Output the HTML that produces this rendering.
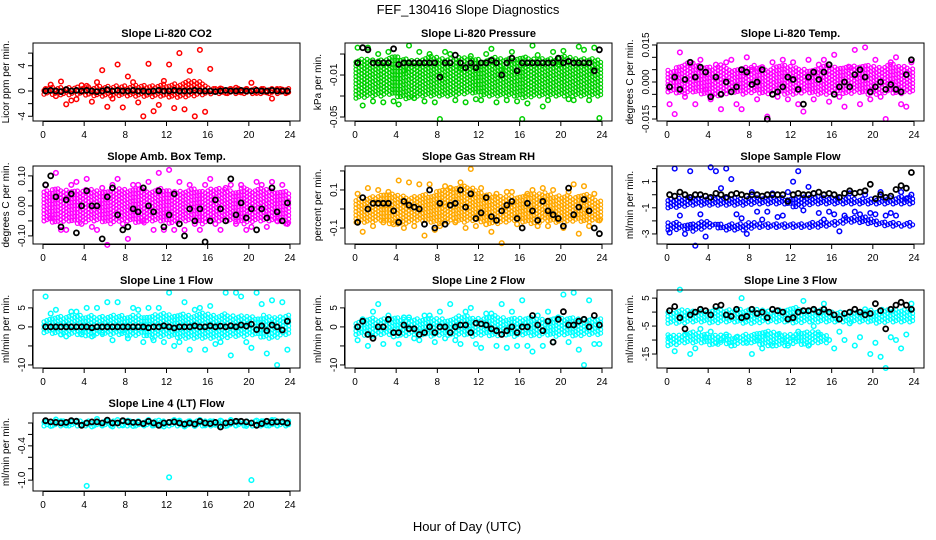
<!DOCTYPE html>
<html><head><meta charset="utf-8"><title>FEF_130416 Slope Diagnostics</title>
<style>
html,body{margin:0;padding:0;background:#fff;}
svg{display:block;font-family:"Liberation Sans",sans-serif;}
</style></head>
<body>
<svg id="chart" width="936" height="540" viewBox="0 0 936 540" xmlns="http://www.w3.org/2000/svg">
<rect x="0" y="0" width="936" height="540" fill="#fff"/>
<text x="468" y="14" font-size="13" text-anchor="middle">FEF_130416  Slope Diagnostics</text>
<text x="467" y="531" font-size="13" text-anchor="middle">Hour of Day (UTC)</text>
<g id="panels"></g>
</svg>
<script>
// ---- data: per-hour dense band edges, scattered points (2 per hour), black reference points ----
const hours = [0,1,2,3,4,5,6,7,8,9,10,11,12,13,14,15,16,17,18,19,20,21,22,23];
const xTicks = [0,4,8,12,16,20,24];

const co2Lo = [-0.5,-0.6,-0.6,-0.5,-0.7,-0.8,-0.8,-0.7,-0.8,-0.8,-0.9,-0.8,-1.0,-1.0,-0.8,-0.6,-0.4,-0.4,-0.4,-0.4,-0.4,-0.4,-0.4,-0.4];
const co2Hi = [0.5,0.7,0.6,0.6,0.7,0.8,0.8,0.8,0.8,0.9,0.9,1.0,1.2,1.2,1.8,1.5,0.4,0.4,0.4,0.4,0.4,0.4,0.4,0.4];
const co2Pts = [0.3,1.0,-0.8,1.5,-2.1,-1.5,-1.3,0.9,0.8,-1.7,1.4,3.3,-2.5,-1.2,4.2,-2.6,2.3,1.4,-1.8,-4.0,4.3,-3.2,-2.2,1.6,4.2,-2.7,6.0,-2.9,3.2,-4.0,6.5,-3.3,3.5,0.3,0.4,-0.3,0.3,0.5,-0.2,0.3,1.3,-0.3,0.3,-0.2,-1.2,0.3,0.2,-0.2];
const co2Blk = [0,0.1,0,-0.1,0.2,0,0.1,0,0.1,0,-0.1,0,0.2,0,0.1,0,0,0.1,0,0,-0.1,0,0.1,0,0,0.1,0,0,0,0.1,0,0,0,-0.1,0,0.1,0,0,0.1,0,0,0.1,0,0,0.1,0,0,0];

const presLo = [-0.032,-0.03,-0.03,-0.028,-0.032,-0.033,-0.03,-0.03,-0.03,-0.03,-0.028,-0.027,-0.03,-0.03,-0.03,-0.03,-0.032,-0.03,-0.03,-0.03,-0.03,-0.03,-0.03,-0.03];
const presHi = [0.005,0.006,0.004,0.008,0.006,0.004,0.006,0.008,0.005,0.006,0.008,0.005,0.004,0.008,0.005,0.006,0.007,0.005,0.006,0.006,0.008,0.005,0.006,0.005];
const presPts = [0.016,-0.039,0.016,-0.035,0.010,-0.036,0.012,-0.035,-0.038,-0.006,0.018,-0.032,0.012,-0.035,0.010,-0.036,-0.052,0.012,0.010,-0.034,-0.004,-0.036,0.008,-0.033,-0.034,0.010,0.015,-0.036,-0.005,-0.034,0.012,-0.035,-0.052,-0.037,0.018,0.009,-0.040,-0.034,0.012,0.0,0.013,-0.033,-0.034,0.017,0.014,-0.034,0.016,-0.051];
const presBlk = [0.0015,0.016,0.014,0.0015,0.0015,0.0015,0.0015,0.015,0.0,0.0015,0.0015,0.0015,0.0015,0.0015,0.0015,0.0015,-0.012,0.0015,0.0015,0.009,0.0015,-0.003,0.0015,-0.003,0.0015,0.0015,0.004,0.0015,-0.01,0.0015,0.006,-0.006,0.0015,0.0015,0.0015,0.0015,0.0015,0.0015,0.0015,0.006,0.0015,0.003,0.0015,0.0015,0.0015,0.0015,-0.006,0.014];

const tempLo = [-0.004,-0.005,-0.004,-0.005,-0.006,-0.005,-0.004,-0.005,-0.004,-0.005,-0.004,-0.005,-0.005,-0.004,-0.005,-0.005,-0.004,-0.005,-0.004,-0.005,-0.005,-0.004,-0.005,-0.004];
const tempHi = [0.005,0.007,0.008,0.006,0.006,0.007,0.005,0.006,0.007,0.005,0.006,0.007,0.006,0.005,0.006,0.007,0.006,0.007,0.006,0.007,0.006,0.007,0.007,0.006];
const tempPts = [-0.009,-0.013,0.012,-0.006,0.007,-0.009,0.009,-0.003,-0.007,0.007,-0.011,0.008,0.009,-0.009,-0.011,0.010,0.005,-0.007,0.006,-0.014,0.008,-0.006,0.009,-0.007,0.008,-0.009,-0.012,0.009,-0.007,0.007,0.009,-0.008,0.011,-0.006,-0.010,0.006,0.013,-0.009,0.014,-0.007,0.009,-0.006,-0.015,0.008,0.010,-0.009,-0.010,0.008];
const tempBlk = [-0.002,0.002,-0.003,0.001,0.008,0.002,0.006,0.004,-0.006,0.002,-0.005,0.0,-0.004,-0.002,0.005,0.004,-0.001,0.0,0.005,-0.015,-0.005,-0.004,-0.002,0.002,0.001,-0.003,-0.009,0.002,0.004,0.001,0.004,0.007,-0.005,-0.002,0.0,-0.002,0.003,0.005,0.002,-0.004,-0.002,0.0,-0.003,-0.001,-0.003,-0.004,0.003,0.009];

const ambLo = [-0.05,-0.06,-0.05,-0.06,-0.05,-0.05,-0.06,-0.05,-0.05,-0.06,-0.05,-0.05,-0.06,-0.05,-0.05,-0.06,-0.05,-0.05,-0.05,-0.06,-0.05,-0.05,-0.05,-0.06];
const ambHi = [0.05,0.06,0.05,0.05,0.06,0.05,0.05,0.06,0.05,0.06,0.05,0.06,0.05,0.05,0.06,0.05,0.06,0.06,0.05,0.06,0.05,0.06,0.05,0.05];
const ambPts = [0.07,-0.04,0.11,-0.08,-0.08,0.07,0.08,-0.06,0.09,-0.07,-0.08,0.06,-0.13,0.07,0.09,-0.06,-0.11,0.07,0.07,-0.05,0.08,-0.08,0.11,-0.08,0.12,-0.08,0.08,-0.08,0.07,-0.06,-0.08,0.07,0.09,-0.06,-0.08,0.06,0.07,-0.06,0.07,-0.08,-0.07,0.08,0.07,-0.07,0.08,-0.05,0.07,-0.06];
const ambBlk = [0.07,0.10,0.03,-0.07,0.02,0.04,-0.09,0.0,0.05,0.0,0.0,-0.11,0.03,0.06,-0.03,-0.08,-0.07,-0.01,-0.02,0.06,0.0,-0.02,0.05,-0.07,-0.03,0.04,-0.06,-0.1,-0.01,-0.05,-0.01,-0.12,-0.05,0.02,-0.01,-0.05,0.09,-0.03,0.01,-0.04,-0.01,-0.08,-0.01,-0.04,0.06,-0.02,-0.05,0.01];

const rhLo = [-0.07,-0.07,-0.06,-0.08,-0.08,-0.07,-0.06,-0.07,-0.08,-0.06,-0.07,-0.06,-0.07,-0.08,-0.07,-0.06,-0.07,-0.08,-0.06,-0.07,-0.07,-0.06,-0.07,-0.06];
const rhHi = [0.05,0.06,0.07,0.08,0.07,0.06,0.07,0.08,0.10,0.12,0.13,0.11,0.08,0.07,0.07,0.06,0.07,0.08,0.09,0.07,0.07,0.06,0.08,0.05];
const rhPts = [0.08,-0.12,0.11,-0.09,0.10,-0.07,0.09,-0.08,0.15,-0.10,0.14,-0.09,0.13,-0.14,0.13,-0.11,-0.09,0.12,0.11,-0.07,0.14,-0.10,0.21,-0.09,0.11,-0.08,-0.12,0.08,-0.18,0.09,0.09,-0.08,-0.10,0.08,0.10,-0.09,0.11,-0.09,0.10,-0.06,-0.10,0.09,0.13,-0.13,0.12,-0.09,0.08,-0.06];
const rhBlk = [-0.07,0.06,0.0,0.03,0.03,0.03,0.03,-0.01,-0.07,0.04,0.02,0.01,0.0,-0.08,0.10,-0.1,0.03,-0.08,0.02,0.03,0.1,0.01,0.08,-0.05,-0.02,0.06,-0.04,-0.06,-0.01,0.02,0.04,-0.05,-0.10,0.03,-0.01,-0.06,0.04,-0.01,-0.03,-0.05,-0.09,0.11,-0.03,0.01,0.05,-0.01,-0.1,-0.13];

const flowLo = [-1.0,-0.9,-0.8,-0.8,-0.8,-0.8,-0.8,-0.8,-0.7,-0.7,-0.7,-0.7,-1.0,-0.8,-0.7,-0.7,-0.7,-0.7,-0.7,-0.7,-0.7,-0.7,-0.7,-0.7];
const flowHi = [-0.3,-0.2,-0.2,-0.3,-0.2,-0.2,-0.2,-0.3,-0.2,-0.2,-0.2,-0.2,-0.2,-0.2,-0.1,-0.2,-0.2,-0.2,-0.3,-0.3,-0.3,-0.2,-0.2,-0.1];
const flowLo2 = [-2.7,-2.6,-2.8,-2.6,-2.4,-2.7,-2.7,-2.7,-2.5,-2.5,-2.5,-2.5,-2.5,-2.5,-2.5,-2.4,-2.3,-2.1,-2.1,-2.2,-2.3,-2.4,-2.4,-2.4];
const flowHi2 = [-2.1,-2.2,-2.2,-2.0,-2.1,-2.3,-2.2,-2.2,-2.1,-2.2,-2.2,-2.2,-2.2,-2.2,-2.1,-2.1,-2.0,-1.7,-1.7,-1.7,-2.0,-2.1,-2.2,-2.1];
const flowPts = [-2.9,2.0,-1.6,-3.0,1.8,-3.9,-1.5,-3.2,2.1,1.8,0.5,2.0,1.2,-1.5,-1.8,-3.0,0.2,-1.3,-1.9,-1.3,0.1,-1.7,-1.6,0.2,1.0,1.8,-1.2,0.6,0.1,-1.4,-1.9,-1.3,-1.5,-2.8,-1.6,0.1,-1.3,-1.5,0.0,-1.4,-1.5,0.2,-1.6,-1.4,-1.6,0.2,-0.3,0.0];
const flowBlk = [0.0,-0.1,0.2,0.0,-0.2,0.0,0.0,-0.1,-0.2,0.1,0.0,-0.2,0.0,0.1,0.0,-0.1,0.0,0.0,-0.1,0.0,0.0,0.0,0.0,-0.5,0.0,0.1,0.0,0.0,0.1,0.2,0.0,0.1,0.0,-0.2,0.1,0.3,0.1,0.2,0.3,0.8,-0.3,0.0,-0.2,-0.1,0.4,0.7,0.5,1.7];

const l1Lo = [-1.5,-2,-2,-2,-2.5,-2,-2,-2,-2.5,-2,-3,-2.5,-2.5,-3,-3,-3,-3,-3,-2.5,-2.5,-2,-3,-3,-2];
const l1Hi = [2,2.5,3,3,3,2.5,3,3,3,3,3,3.5,3,3.5,3,3.5,3,3.5,3,3,2.5,3,2.5,3];
const l1Pts = [8,3.5,4.5,-2,-2.5,4,4,-2,5,-2.5,5,-1.5,6.5,-3.5,6.5,-1,-3,5,4.5,-4,5,-3.5,5,-4,9,-5,-4,6.5,-6,4.5,5,-6,5.5,-4.5,-4,9,-7.5,9,8,-4,-5.5,9,6,-7,7,-10,6.5,-6];
const l1Blk = [0,0,0,0,0,0,0,0,0,-0.2,0,0,0,0,0,0,0,0,0,0,-0.2,0,0,0.3,0,-0.3,0,0,0,0.3,0,0,0.3,0,0.2,0,0.3,0,0.5,0.2,0.7,-0.7,0.3,-1,0.5,0,-0.8,1.5];

const l2Lo = [-2,-2.5,-2,-2,-2.5,-2,-2,-2.5,-2,-2.5,-2,-2.5,-2,-2.5,-2,-2.5,-2,-2.5,-2,-2.5,-2,-2.5,-2,-2];
const l2Hi = [1.5,2.5,2,2,2.5,2,2,2.5,2,2.5,3,2.5,2,3,2.5,2.5,2,2.5,2,2.5,2,2.5,2,2];
const l2Pts = [-3.5,2,-5,4,6,-4.5,3,-2.5,-4.5,2.5,2.5,-3,-3.5,3,3,-4,4,-3,6,-3.5,-4.5,4,5,-4.5,-5.5,3.5,3.5,-5,6,-5.5,4,-5,7,-5,-6.5,3,-5,4,-4,2.5,8.5,-4,9,-6,-10,7,-4.5,-4.5];
const l2Blk = [0,1.5,-2,-3,0,0,2,-1.5,-1.5,0.5,-0.5,-0.5,-2,-1.5,0,-1.5,0,0,-1.5,0,0.5,0.5,-1.5,1,0.8,0.5,-0.5,-1,-2,-1,0,-1.5,0,0,3,0.5,-1,1.5,-4,2,4,0.5,0.5,1.5,2,0,3,0.5];

const l3Lo = [-4,-4,-3.5,-3.5,-4,-3.5,-3.5,-4,-4,-3.5,-3.5,-3.5,-4,-3.5,-3.5,-3.5,-3.5,-3.5,-3.5,-3.5,-4,-3.5,-3.5,-3.5];
const l3Hi = [0,1,0.5,0.5,1,1,0.5,1,1,0.5,0.5,1,1.5,1,1,0.5,0,0,0,0.5,1,1,1,1];
const l3Lo2 = [-12,-11,-11,-11,-12,-11,-12,-11,-11,-12,-12,-12,-11,-12,-11,-11,null,null,null,null,null,null,null,null];
const l3Hi2 = [-8,-8,-7,-8,-8,-8,-9,-8,-8,-7,-7,-8,-8,-7,-7,-8,null,null,null,null,null,null,null,null];
const l3Pts = [-9,-14,8,-8,-15,-13,-6,-9,-7,-11,-10,-8,-12,-9,5,-11,-15,-10,-13,-8,-12,-8,-10,-12,-9,-7,4,-12,-5,-8,3,-10,-13,-7,-10,-4,-12,-9,1,-15,-11,-16,-20,-9,-10,-13,-8,3];
const l3Blk = [0.5,2,-2,-6,-1,0,1,0.5,-1,2,2.5,-1,-1.5,1,-2,-1.5,1,-0.5,0,-2,1,0.5,0,-2.5,-2,0,0.5,0.5,1,0,1,0,-1,-2.5,-0.5,0,1,0,-1,-0.5,3,0.5,-6,1,2.5,3.5,2.5,1];

const l4Lo = [-0.05,-0.05,-0.05,-0.05,-0.05,-0.05,-0.05,-0.05,-0.05,-0.05,-0.05,-0.05,-0.05,-0.05,-0.05,-0.05,-0.05,-0.05,-0.05,-0.05,-0.05,-0.05,-0.05,-0.05];
const l4Hi = [0.04,0.05,0.04,0.04,0.05,0.04,0.04,0.04,0.05,0.04,0.04,0.04,0.04,0.05,0.04,0.04,0.04,0.04,0.05,0.04,0.04,0.04,0.05,0.04];
const l4Pts = [0.02,-0.05,0.06,0.03,-0.04,0.02,0.04,-0.03,-1.1,-0.06,0.07,-0.04,0.03,-0.06,0.05,-0.04,0.04,-0.05,0.03,-0.03,0.05,-0.04,0.04,-0.06,-0.95,0.05,0.04,-0.06,0.03,-0.05,0.05,-0.04,0.03,-0.03,0.04,-0.05,0.05,-0.04,0.03,-0.05,-1.0,0.04,0.03,-0.04,0.05,-0.04,0.03,-0.02];
const l4Blk = [0.04,0.02,0.01,0.0,0.01,0.04,0.03,-0.04,0.0,0.02,0.02,0.0,0.05,0.0,0.0,0.04,0.02,0.01,0.01,-0.01,0.03,0.0,-0.04,0.0,0.01,0.02,0.0,-0.02,0.0,-0.02,0.03,0.0,-0.01,0.01,-0.07,0.0,0.01,0.03,0.03,0.02,0.0,-0.04,-0.01,0.03,0.01,0.02,0.02,0.0];

// ---- tick labels ----
const co2Ticks = [-4,-2,0,2,4,6], co2Labels = ["-4","0","4"];
const presTicks = [-0.05,-0.03,-0.01,0.01], presLabels = ["-0.05","-0.01"];
const tempTicks = [-0.015,-0.01,-0.005,0,0.005,0.01,0.015], tempLabels = ["-0.015","0.000","0.015"];
const ambTicks = [-0.1,-0.05,0,0.05,0.1], ambLabels = ["-0.10","0.00","0.10"];
const rhTicks = [-0.1,0,0.1,0.2], rhLabels = ["-0.1","0.1"];
const flowTicks = [-3,-2,-1,0,1,2], flowLabels = ["-3","-1","1"];
const l1Ticks = [-10,-5,0,5], l1Labels = ["-10","0","5"];
const l3Ticks = [-15,-10,-5,0,5], l3Labels = ["-15","-5","5"];
const l4Ticks = [-1.0,-0.8,-0.6,-0.4,-0.2,0.0], l4Labels = ["-1.0","-0.4"];

// ---- layout ----
const colL = [33,345,657], rowT = [43,166,290,413], W = 267, H = 78;
const panels = [
 {name:"co2",title:"Slope Li-820 CO2",ylab:"Licor ppm per min.",c:0,r:0,ymin:-4.75,ymax:7.6,lo:co2Lo,hi:co2Hi,pts:co2Pts,blk:co2Blk,ticks:co2Ticks,labels:co2Labels,col:"#ff0000"},
 {name:"pressure",title:"Slope Li-820 Pressure",ylab:"kPa per min.",c:1,r:0,ymin:-0.0538,ymax:0.0205,lo:presLo,hi:presHi,pts:presPts,blk:presBlk,ticks:presTicks,labels:presLabels,col:"#00d000"},
 {name:"temp",title:"Slope Li-820 Temp.",ylab:"degrees C per min.",c:2,r:0,ymin:-0.0158,ymax:0.0158,lo:tempLo,hi:tempHi,pts:tempPts,blk:tempBlk,ticks:tempTicks,labels:tempLabels,col:"#ff00ff"},
 {name:"amb-box-temp",title:"Slope Amb. Box Temp.",ylab:"degrees C per min.",c:0,r:1,ymin:-0.127,ymax:0.133,lo:ambLo,hi:ambHi,pts:ambPts,blk:ambBlk,ticks:ambTicks,labels:ambLabels,col:"#ff00ff"},
 {name:"gas-stream-rh",title:"Slope Gas Stream RH",ylab:"percent per min.",c:1,r:1,ymin:-0.184,ymax:0.226,lo:rhLo,hi:rhHi,pts:rhPts,blk:rhBlk,ticks:rhTicks,labels:rhLabels,col:"#ffa800"},
 {name:"sample-flow",title:"Slope Sample Flow",ylab:"ml/min per min.",c:2,r:1,ymin:-3.77,ymax:2.2,lo:flowLo,hi:flowHi,lo2:flowLo2,hi2:flowHi2,pts:flowPts,blk:flowBlk,ticks:flowTicks,labels:flowLabels,col:"#0000ff"},
 {name:"line1-flow",title:"Slope Line 1 Flow",ylab:"ml/min per min.",c:0,r:2,ymin:-10.8,ymax:9.7,lo:l1Lo,hi:l1Hi,pts:l1Pts,blk:l1Blk,ticks:l1Ticks,labels:l1Labels,col:"#00ffff"},
 {name:"line2-flow",title:"Slope Line 2 Flow",ylab:"ml/min per min.",c:1,r:2,ymin:-10.8,ymax:9.7,lo:l2Lo,hi:l2Hi,pts:l2Pts,blk:l2Blk,ticks:l1Ticks,labels:l1Labels,col:"#00ffff"},
 {name:"line3-flow",title:"Slope Line 3 Flow",ylab:"ml/min per min.",c:2,r:2,ymin:-20,ymax:7.9,lo:l3Lo,hi:l3Hi,lo2:l3Lo2,hi2:l3Hi2,pts:l3Pts,blk:l3Blk,ticks:l3Ticks,labels:l3Labels,col:"#00ffff"},
 {name:"line4-flow",title:"Slope Line 4 (LT) Flow",ylab:"ml/min per min.",c:0,r:3,ymin:-1.19,ymax:0.175,lo:l4Lo,hi:l4Hi,pts:l4Pts,blk:l4Blk,ticks:l4Ticks,labels:l4Labels,col:"#00ffff"}
];

const NS = "http://www.w3.org/2000/svg";
const root = document.getElementById("panels");
function mk(tag, attrs, parent){
  const e = document.createElementNS(NS, tag);
  for (const k in attrs) e.setAttribute(k, attrs[k]);
  parent.appendChild(e);
  return e;
}
// linear interpolation of per-hour arrays (values at hour centres)
function interp(arr, xh){
  const t = xh - 0.5;
  let i = Math.floor(t);
  if (i < 0) return arr[0];
  if (i >= arr.length - 1) return arr[arr.length - 1];
  const a = arr[i], b = arr[i + 1];
  if (a == null || b == null) return null;
  const f = t - i;
  return a + (b - a) * f;
}

panels.forEach(p => {
  const L = colL[p.c], T = rowT[p.r];
  const g = mk("g", {}, root);
  
  
  const xs = h => L + 10 + h * (W - 20) / 24;
  const ys = v => T + H - (v - p.ymin) / (p.ymax - p.ymin) * H;

  const t = mk("text", {x: L + W/2, y: T - 6, "font-size": 11, "font-weight": "bold", "text-anchor": "middle"}, g);
  t.textContent = p.title;
  
  

  const yt = mk("text", {x: 0, y: 0, "font-size": 10, "text-anchor": "middle", transform: `translate(${L-24},${T+H/2}) rotate(-90)`}, g);
  yt.textContent = p.ylab;
  
  

  const pg = mk("g", {fill: "none"}, g);
  
  
  const band = (lo, hi) => {
    let k = 0;
    for (let xh = 0.1; xh < 23.95; xh += 0.27, k++) {
      const l = interp(lo, xh), h = interp(hi, xh);
      if (l == null || h == null) continue;
      const yTop = ys(h), yBot = ys(l);
      const off = (k % 3) * 1.3;
      for (let py = yBot - off; py >= yTop - 0.5; py -= 3.6) {
        const c = mk("circle", {cx: xs(xh).toFixed(1), cy: py.toFixed(1), r: 2, stroke: p.col, "stroke-width": 1.2}, pg);
        
        
      }
    }
  };
  band(p.lo, p.hi);
  if (p.lo2) band(p.lo2, p.hi2);
  p.pts.forEach((v, i) => {
    const c = mk("circle", {cx: xs((i + 0.5) * 24 / p.pts.length).toFixed(1), cy: ys(v).toFixed(1), r: 2.3, stroke: p.col, "stroke-width": 1.5}, pg);
    
    
  });
  p.blk.forEach((v, i) => {
    const c = mk("circle", {cx: xs((i + 0.5) * 24 / p.blk.length).toFixed(1), cy: ys(v).toFixed(1), r: 2.5, stroke: "#000", "stroke-width": 1.8}, pg);
    
    
  });

  const box = mk("rect", {x: L, y: T, width: W, height: H, fill: "none", stroke: "#000", "stroke-width": 1}, g);
  
  

  const xa = mk("g", {stroke: "#000", "stroke-width": 1}, g);
  
  
  mk("line", {x1: xs(xTicks[0]), x2: xs(xTicks[xTicks.length-1]), y1: T+H+0.5, y2: T+H+0.5}, xa);
  xTicks.forEach(h => {
    mk("line", {x1: xs(h), x2: xs(h), y1: T+H, y2: T+H+5}, xa);
    const lt = mk("text", {x: xs(h), y: T+H+17, "font-size": 10, "text-anchor": "middle", stroke: "none", fill: "#000"}, g);
    lt.textContent = h;
    
    
  });

  const ya = mk("g", {stroke: "#000", "stroke-width": 1}, g);
  
  
  mk("line", {x1: L-0.5, x2: L-0.5, y1: ys(p.ticks[0]), y2: ys(p.ticks[p.ticks.length-1])}, ya);
  p.ticks.forEach(v => {
    mk("line", {x1: L-5, x2: L, y1: ys(v), y2: ys(v)}, ya);
  });
  p.labels.forEach(s => {
    const v = parseFloat(s);
    const lt = mk("text", {x: 0, y: 0, "font-size": 10, "text-anchor": "middle", transform: `translate(${L-8},${ys(v)}) rotate(-90)`}, g);
    lt.textContent = s;
    
    
  });
});
</script>
</body></html>
